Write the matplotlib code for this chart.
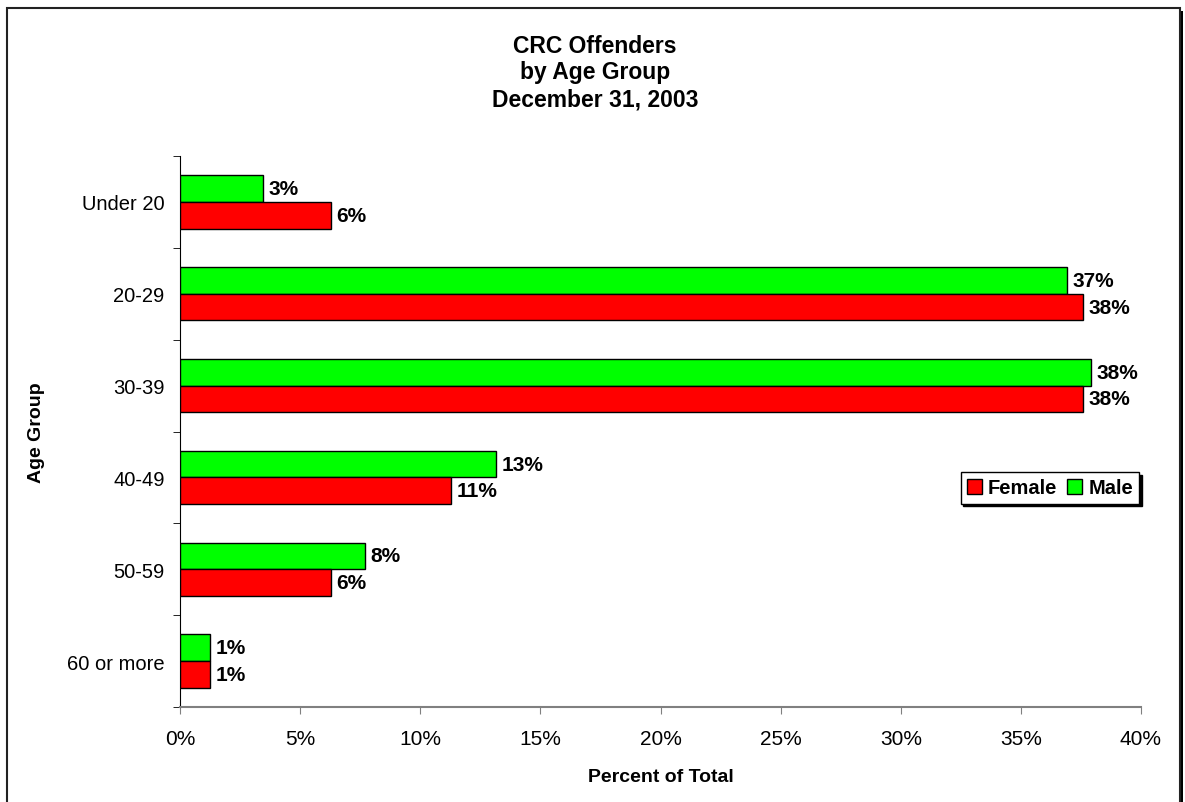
import matplotlib
matplotlib.use("Agg")
import matplotlib.pyplot as plt
from matplotlib.patches import Rectangle
import numpy as np

plt.rcParams['font.family'] = ['Liberation Sans', 'DejaVu Sans']

categories = ["Under 20", "20-29", "30-39", "40-49", "50-59", "60 or more"]
male = [3.45, 36.9, 37.9, 13.15, 7.7, 1.25]
female = [6.28, 37.6, 37.6, 11.3, 6.28, 1.25]
xticks = [0, 5, 10, 15, 20, 25, 30, 35, 40]
title = "CRC Offenders\nby Age Group\nDecember 31, 2003"

W, H = 1185, 803
fig = plt.figure(figsize=(W / 100, H / 100), dpi=100)

# figure frame with shadow
fig.patches.append(Rectangle((10 / W, -0.05), (1183 - 10) / W, 1 - 12 / H + 0.05,
                             transform=fig.transFigure, facecolor='black',
                             edgecolor='none', zorder=-3))
fig.patches.append(Rectangle((7 / W, -0.05), (1180 - 7) / W, 1 - 9 / H + 0.05,
                             transform=fig.transFigure, facecolor='white',
                             edgecolor='#222222', linewidth=1.5, zorder=-2))

ax = fig.add_axes([180 / W, (H - 708) / H, (1141 - 180) / W, (708 - 157) / H])
ax.set_facecolor('none')

y = np.arange(len(categories))
h = 0.29
bm = ax.barh(y - h / 2, male, height=h, color='#00FF00', edgecolor='black',
             linewidth=1, label='Male', zorder=3)
bf = ax.barh(y + h / 2, female, height=h, color='#FF0000', edgecolor='black',
             linewidth=1, label='Female', zorder=3)

for bars, vals in ((bm, male), (bf, female)):
    for b, v in zip(bars, vals):
        ax.annotate(f"{v:.0f}%", (v, b.get_y() + b.get_height() / 2),
                    xytext=(4, 0), textcoords='offset points',
                    ha='left', va='center', fontsize=15, fontweight='bold')

ax.set_ylim(len(categories) - 0.5, -0.5)
ax.set_xlim(0, 40)
ax.set_yticks(y)
ax.set_yticklabels(categories, fontsize=14.5)
ax.set_yticks(np.arange(-0.5, len(categories)), minor=True)
ax.tick_params(axis='y', which='major', length=0, pad=11)
ax.tick_params(axis='y', which='minor', length=5, direction='out', color='black')
ax.set_xticks(xticks)
ax.set_xticklabels([f"{t}%" for t in xticks], fontsize=15)
ax.tick_params(axis='x', length=5, direction='out', color='#808080', pad=11)

for s in ('top', 'right'):
    ax.spines[s].set_visible(False)
ax.spines['left'].set_color('black')
ax.spines['bottom'].set_color('#808080')
ax.spines['bottom'].set_linewidth(1.5)

ax.set_xlabel("Percent of Total", fontsize=14, fontweight='bold', labelpad=14)
ax.set_ylabel("Age Group", fontsize=14, fontweight='bold', labelpad=16)

fig.text(595 / W, 1 - 73 / H, title, ha='center', va='center', fontsize=16.5,
         fontweight='bold', linespacing=1.2)

handles = [bf, bm]
leg = fig.legend(handles, ['Female', 'Male'], loc='center',
                 bbox_to_anchor=(1050 / W, 1 - 489 / H), ncol=2,
                 prop={'weight': 'bold', 'size': 14.5}, frameon=True,
                 fancybox=False, edgecolor='black', framealpha=1,
                 shadow={'color': 'black', 'alpha': 1},
                 handlelength=0.75, handleheight=0.75, handletextpad=0.3,
                 columnspacing=0.5, borderpad=0.3, borderaxespad=0)
leg.get_frame().set_linewidth(1)

fig.savefig("out.png", dpi=100)
